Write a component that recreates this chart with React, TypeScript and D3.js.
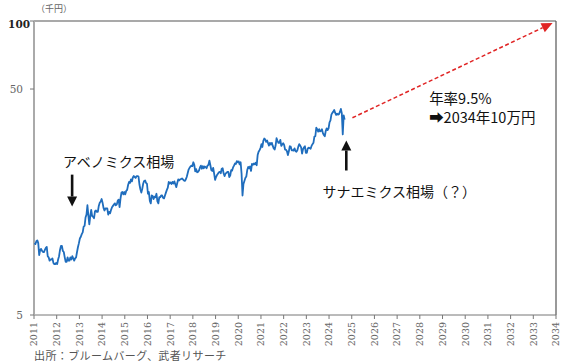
import React from 'react';
import * as d3 from 'd3';

// Nikkei-style index in thousand yen, two readings per month (first half / second half)
const nikkei2011 = [10.4, 10.3, 10.6, 10.7, 10.4, 9.2, 9.7, 9.8, 9.6, 9.5, 9.5, 9.7, 9.9, 10.0, 9.1, 9.0, 8.7, 8.8, 8.8, 8.9, 8.5, 8.4, 8.4, 8.5];
const nikkei2012 = [8.4, 8.8, 9.1, 9.7, 10.1, 10.1, 9.6, 9.5, 9.0, 8.6, 8.6, 9.0, 8.7, 8.7, 9.0, 8.8, 9.1, 8.9, 8.7, 8.9, 9.0, 9.5, 10.0, 10.4];
const nikkei2013 = [10.9, 11.1, 11.4, 11.6, 12.3, 12.4, 13.5, 13.9, 15.3, 13.8, 12.6, 13.7, 14.6, 13.7, 13.6, 13.4, 14.4, 14.5, 14.3, 14.3, 15.2, 15.7, 15.9, 16.3];
const nikkei2014 = [15.7, 14.9, 14.5, 14.8, 14.8, 14.8, 13.9, 14.3, 14.1, 14.6, 15.0, 15.2, 15.4, 15.6, 15.3, 15.4, 16.0, 16.2, 15.0, 16.4, 17.4, 17.5, 17.1, 17.5];
const nikkei2015 = [17.1, 17.7, 17.9, 18.8, 19.4, 19.2, 19.9, 19.5, 20.3, 20.6, 20.4, 20.2, 20.6, 20.6, 20.5, 18.9, 18.0, 17.4, 18.1, 19.1, 19.6, 19.7, 19.2, 19.0];
const nikkei2016 = [17.2, 17.5, 16.0, 15.6, 16.9, 16.8, 16.3, 16.7, 16.6, 17.2, 15.9, 15.6, 16.6, 16.6, 16.9, 16.9, 16.5, 16.4, 16.9, 17.4, 17.9, 18.3, 19.4, 19.1];
const nikkei2017 = [19.3, 19.0, 19.4, 19.1, 19.5, 18.9, 18.4, 19.2, 19.9, 19.7, 19.9, 20.0, 20.1, 19.9, 19.7, 19.6, 19.9, 20.4, 21.2, 22.0, 22.4, 22.7, 22.9, 22.8];
const nikkei2018 = [23.7, 23.1, 21.6, 22.1, 21.4, 21.5, 21.8, 22.5, 22.9, 22.2, 22.8, 22.3, 22.7, 22.6, 22.3, 22.9, 23.1, 24.1, 23.0, 21.9, 21.7, 22.4, 21.1, 19.8];
const nikkei2019 = [20.4, 20.8, 21.1, 21.4, 21.5, 21.2, 22.2, 22.3, 21.2, 20.6, 21.1, 21.3, 21.5, 21.5, 20.4, 20.7, 21.9, 21.8, 22.5, 22.9, 23.4, 23.3, 24.0, 23.7];
const nikkei2020 = [23.9, 23.2, 23.7, 21.1, 16.9, 19.0, 19.6, 20.2, 20.5, 21.9, 22.6, 22.3, 22.7, 21.7, 23.3, 23.1, 23.4, 23.2, 23.6, 23.0, 25.5, 26.4, 26.8, 27.4];
const nikkei2021 = [28.5, 27.7, 29.5, 30.2, 29.9, 29.2, 29.6, 28.8, 28.1, 28.9, 28.4, 28.9, 28.0, 27.3, 27.0, 28.1, 30.3, 29.5, 28.9, 28.9, 29.8, 28.0, 28.4, 28.8];
const nikkei2022 = [28.3, 27.0, 26.9, 26.5, 25.5, 26.5, 27.9, 27.8, 26.8, 26.8, 26.7, 27.3, 26.6, 26.4, 26.8, 27.8, 28.5, 28.1, 27.6, 25.9, 27.1, 27.6, 27.9, 26.1];
const nikkei2023 = [26.1, 27.3, 27.5, 27.4, 27.2, 28.0, 28.5, 28.9, 30.8, 30.9, 33.7, 33.2, 32.4, 33.2, 32.5, 32.6, 33.2, 31.9, 31.3, 30.9, 32.6, 33.5, 32.9, 33.5];
const nikkei2024 = [35.6, 36.3, 38.5, 39.2, 39.7, 40.4, 39.2, 38.4, 38.9, 38.5, 38.7, 39.6, 40.8, 39.1, 31.5, 38.2, 36.6];

const seriesByYear: [number, number[]][] = [
  [2011, nikkei2011], [2012, nikkei2012], [2013, nikkei2013], [2014, nikkei2014],
  [2015, nikkei2015], [2016, nikkei2016], [2017, nikkei2017], [2018, nikkei2018],
  [2019, nikkei2019], [2020, nikkei2020], [2021, nikkei2021], [2022, nikkei2022],
  [2023, nikkei2023], [2024, nikkei2024],
];

const yearLabels = [
  2011, 2012, 2013, 2014, 2015, 2016, 2017, 2018, 2019, 2020, 2021, 2022,
  2023, 2024, 2025, 2026, 2027, 2028, 2029, 2030, 2031, 2032, 2033, 2034,
];
const yTickValues = [5, 50, 100];

// 9.5% a year projection: [year, value]
const trendStart: [number, number] = [2025.03, 37.3];
const trendEnd: [number, number] = [2033.85, 98];

const W = 567;
const H = 364;
const margin = { top: 21, right: 11, bottom: 49, left: 34 };

const jpFont = '"Noto Sans CJK JP", "Noto Sans", sans-serif';
const serifFont = '"DejaVu Serif", "Liberation Serif", serif';

const App = () => {
  const x = d3.scaleLinear().domain([2011, 2034]).range([margin.left, W - margin.right]);
  const y = d3.scaleLog().domain([5, 100]).range([H - margin.bottom, margin.top]);

  const points: [number, number][] = [];
  seriesByYear.forEach(([yr, vals]) => {
    vals.forEach((v, i) => points.push([yr + (i + 0.5) / 24, v]));
  });

  const line = d3
    .line<[number, number]>()
    .x((d) => x(d[0]))
    .y((d) => y(d[1]));

  // red dashed arrow
  const x1 = x(trendStart[0]);
  const y1 = y(trendStart[1]);
  const x2 = x(trendEnd[0]);
  const y2 = y(trendEnd[1]);
  const ang = Math.atan2(y2 - y1, x2 - x1);
  const headLen = 11;
  const headW = 5;
  const bx = x2 - headLen * Math.cos(ang);
  const by = y2 - headLen * Math.sin(ang);
  const head = [
    [x2, y2],
    [bx + headW * Math.sin(ang), by - headW * Math.cos(ang)],
    [bx - headW * Math.sin(ang), by + headW * Math.cos(ang)],
  ]
    .map((p) => p.join(','))
    .join(' ');

  const vArrow = (year: number, from: number, to: number) => {
    const ax = x(year);
    const ya = y(from);
    const yb = y(to);
    const dir = yb > ya ? 1 : -1;
    const hl = 10;
    return (
      <g key={year}>
        <line x1={ax} x2={ax} y1={ya} y2={yb - dir * hl} stroke="#111" strokeWidth={2.6} />
        <polygon
          points={`${ax},${yb} ${ax - 5},${yb - dir * hl} ${ax + 5},${yb - dir * hl}`}
          fill="#111"
        />
      </g>
    );
  };

  const bottom = H - margin.bottom;
  const right = W - margin.right;

  return (
    <div style={{ position: 'absolute', left: 0, top: 0 }}>
      <svg width={W} height={H} style={{ display: 'block', background: '#fff' }}>
        {/* frame */}
        <line x1={margin.left} x2={right} y1={margin.top} y2={margin.top} stroke="#555" strokeWidth={1.2} />
        <line x1={right} x2={right} y1={margin.top} y2={bottom} stroke="#555" strokeWidth={1.2} />
        <line x1={margin.left} x2={right} y1={bottom} y2={bottom} stroke="#777" strokeWidth={1} />
        <line x1={margin.left} x2={margin.left} y1={margin.top} y2={bottom} stroke="#aaa" strokeWidth={2} />

        {/* y ticks */}
        {yTickValues.map((v) => (
          <g key={v}>
            <line x1={margin.left - 4} x2={margin.left} y1={y(v)} y2={y(v)} stroke="#777" />
            <text
              x={v === 100 ? margin.left - 4 : margin.left - 11}
              y={y(v) + (v === 100 ? 3 : 0)}
              dy="0.35em"
              textAnchor="end"
              fontFamily={serifFont}
              fontSize={10.5}
              fontWeight={v === 100 ? 'bold' : 'normal'}
              fill={v === 100 ? '#222' : '#666'}
            >
              {v}
            </text>
          </g>
        ))}
        <text x={36} y={12} fontFamily={jpFont} fontSize={9} fill="#666">
          （千円）
        </text>

        {/* x ticks */}
        {yearLabels.map((yr) => (
          <g key={yr}>
            <line x1={x(yr)} x2={x(yr)} y1={bottom} y2={bottom + 4} stroke="#777" />
            <text
              transform={`translate(${x(yr)},${bottom + 7}) rotate(-90)`}
              dy="0.35em"
              textAnchor="end"
              fontFamily={serifFont}
              fontSize={9.5}
              fill="#666"
            >
              {yr}
            </text>
          </g>
        ))}

        {/* series */}
        <path d={line(points) ?? ''} fill="none" stroke="#1f6dbd" strokeWidth={1.8} strokeLinejoin="round" />

        {/* projection arrow */}
        <line x1={x1} y1={y1} x2={bx} y2={by} stroke="#e02424" strokeWidth={1.5} strokeDasharray="4 2.5" />
        <polygon points={head} fill="#e02424" />

        {/* annotations */}
        {vArrow(2012.68, 20.9, 15.1)}
        {vArrow(2024.76, 21.8, 29.6)}
        <text x={x(2012.28)} y={y(22.7)} fontFamily={jpFont} fontSize={14} fill="#111">
          アベノミクス相場
        </text>
        <text x={x(2023.71)} y={y(16.7)} fontFamily={jpFont} fontSize={14} fill="#111">
          サナエミクス相場（？）
        </text>
        <text x={x(2028.41)} y={y(43.1)} fontFamily={jpFont} fontSize={14.5} fill="#111">
          年率9.5%
        </text>
        <text x={x(2028.41)} y={y(35.4)} fontFamily={jpFont} fontSize={14.5} fill="#111">
          ➡2034年10万円
        </text>

        <text x={34} y={360} fontFamily={jpFont} fontSize={11} letterSpacing={0.4} fill="#555">
          出所：ブルームバーグ、武者リサーチ
        </text>
      </svg>
    </div>
  );
};

export default App;
